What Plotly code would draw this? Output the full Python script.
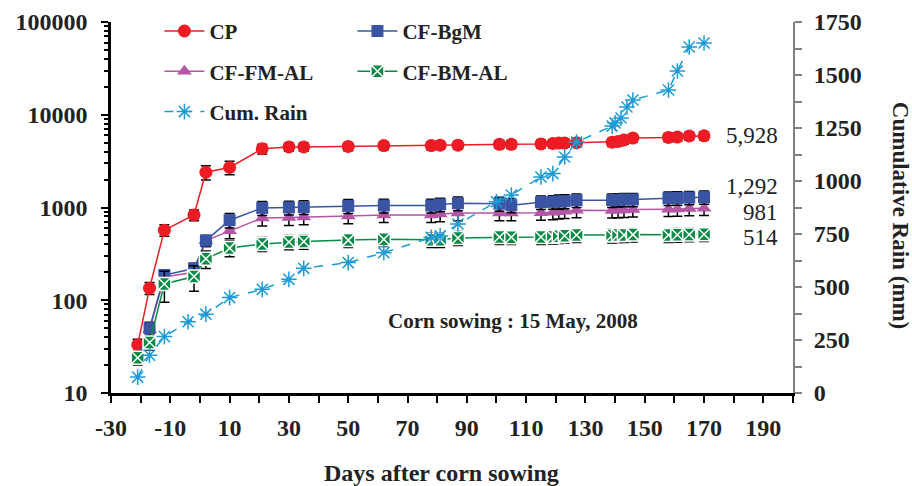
import plotly.graph_objects as go
import math

# ---------------- data ----------------
days = [-21, -17, -12, -2, 2, 10, 21, 30, 35, 50, 62, 78, 81, 87, 101, 105,
        115, 119, 121, 123, 127, 139, 141, 143, 146, 158, 161, 165, 170]

cp = [33, 135, 570, 830, 2400, 2700, 4300, 4500, 4500, 4550, 4650, 4650, 4700, 4700,
      4800, 4800, 4850, 4900, 4950, 4950, 5000, 5050, 5150, 5350, 5600, 5700, 5750, 5900, 5928]
cp_err = [5, 20, 80, 110, 420, 450, 520, 450, 450, 450, 450, 450, 460, 460,
          480, 480, 480, 490, 490, 490, 500, 500, 510, 530, 560, 570, 570, 590, 590]

bgm = [24, 50, 187, 220, 440, 730, 990, 1000, 1010, 1040, 1050, 1050, 1080, 1110,
       1100, 1060, 1140, 1150, 1160, 1170, 1200, 1200, 1210, 1220, 1220, 1260, 1270, 1280, 1292]
bgm_err = [3, 8, 25, 30, 60, 130, 170, 170, 170, 180, 180, 180, 180, 190,
           190, 180, 190, 190, 200, 200, 200, 200, 200, 200, 200, 210, 210, 210, 210]

fmal = [24, 48, 178, 200, 440, 560, 770, 780, 790, 810, 830, 830, 850, 870,
        870, 870, 880, 890, 900, 910, 935, 930, 935, 940, 950, 960, 965, 975, 981]
fmal_err = [3, 8, 25, 30, 60, 100, 140, 140, 140, 140, 140, 140, 150, 150,
            150, 150, 150, 150, 150, 150, 160, 160, 160, 160, 160, 160, 160, 160, 160]

bmal = [24, 35, 150, 180, 280, 365, 405, 425, 430, 445, 455, 450, 450, 470,
        480, 478, 480, 485, 490, 495, 505, 500, 505, 505, 510, 505, 508, 512, 514]
bmal_err = [4, 6, 55, 55, 60, 70, 70, 75, 75, 75, 75, 80, 80, 80,
            80, 80, 80, 80, 80, 80, 85, 85, 85, 85, 85, 85, 85, 85, 85]

rain_days = [-21, -17, -12, -4, 2, 10, 21, 30, 35, 50, 62, 78, 81, 87, 100, 105,
             115, 119, 123, 127, 139, 140, 142, 144, 146, 158, 161, 165, 170]
rain = [75, 178, 266, 336, 372, 450, 489, 536, 588, 615, 662, 734, 741, 797, 902, 934,
        1019, 1035, 1113, 1184, 1259, 1274, 1297, 1349, 1382, 1429, 1519, 1632, 1651]

end_labels = ["5,928", "1,292", "981", "514"]
end_values = [5928, 1292, 981, 514]
end_shift = [0, 11, -4, -3]

x_ticks = list(range(-30, 200, 20))
x_ticktext = ["-30", "-10", "10", "30", "50", "70", "90", "110", "130", "150", "170", "190"]
y_ticks = [10, 100, 1000, 10000, 100000]
y_ticktext = ["10", "100", "1000", "10000", "100000"]
y2_ticks = list(range(0, 1751, 250))

# ---------------- styles ----------------
SERIF = "Liberation Serif"
RED = "#ED1C24"
BLUE = "#3A54A4"
PURPLE = "#B455A6"
GREEN = "#0B8A45"
RAINC = "#1C9AD6"

fig = go.Figure()

def err(vals):
    return dict(type="data", array=vals, visible=True, color="black",
                thickness=1.5, width=5)

fig.add_trace(go.Scatter(x=days, y=cp, name="CP", mode="lines+markers",
                         line=dict(color=RED, width=1.5),
                         marker=dict(symbol="circle", size=13, color=RED),
                         error_y=err(cp_err), legend="legend", legendgroup="a"))
fig.add_trace(go.Scatter(x=days, y=fmal, name="CF-FM-AL", mode="lines+markers",
                         line=dict(color=PURPLE, width=1.5),
                         marker=dict(symbol="triangle-up", size=13, color=PURPLE),
                         error_y=err(fmal_err), legend="legend", legendgroup="b"))
fig.add_trace(go.Scatter(x=days, y=bgm, name="CF-BgM", mode="lines+markers",
                         line=dict(color=BLUE, width=1.5),
                         marker=dict(symbol="square", size=12, color=BLUE),
                         error_y=err(bgm_err), legend="legend2", legendgroup="c"))
fig.add_trace(go.Scatter(x=days, y=bmal, name="CF-BM-AL", mode="lines+markers",
                         line=dict(color=GREEN, width=1.5),
                         marker=dict(symbol="square-x", size=13, color=GREEN,
                                     line=dict(color="white", width=1.5)),
                         error_y=err(bmal_err), legend="legend2", legendgroup="d"))
fig.add_trace(go.Scatter(x=rain_days, y=rain, name="Cum. Rain", mode="lines+markers",
                         yaxis="y2",
                         line=dict(color=RAINC, width=1.5, dash="dash"),
                         marker=dict(symbol="asterisk-open", size=13,
                                     line=dict(color=RAINC, width=1.5)),
                         legend="legend", legendgroup="e"))

annotations = []
for lab, val, sh in zip(end_labels, end_values, end_shift):
    annotations.append(dict(x=195.5, y=math.log10(val), xref="x", yref="y",
                            text=lab, showarrow=False, xanchor="right",
                            yanchor="middle", yshift=sh,
                            font=dict(family=SERIF, size=23, color="#222")))
annotations.append(dict(x=0.589, y=0.194, xref="paper", yref="paper",
                        text="Corn sowing : 15 May, 2008", showarrow=False,
                        xanchor="center", yanchor="middle",
                        font=dict(family=SERIF, size=21, color="#222", weight="bold")))
annotations.append(dict(x=0.485, y=-0.215, xref="paper", yref="paper",
                        text="Days after corn sowing", showarrow=False,
                        xanchor="center", yanchor="middle",
                        font=dict(family=SERIF, size=24, color="#222", weight="bold")))
annotations.append(dict(x=1.157, y=0.48, xref="paper", yref="paper",
                        text="Cumulative Rain (mm)", showarrow=False, textangle=90,
                        xanchor="center", yanchor="middle",
                        font=dict(family=SERIF, size=23, color="#222", weight="bold")))

tickfont = dict(family=SERIF, size=24, color="#222", weight="bold")
legfont = dict(family=SERIF, size=21, color="#222", weight="bold")

fig.update_layout(
    width=912, height=486,
    margin=dict(l=111, r=119, t=22, b=93, autoexpand=False),
    paper_bgcolor="white", plot_bgcolor="white",
    xaxis=dict(range=[-30, 200], tickvals=x_ticks, ticktext=x_ticktext,
               ticks="outside", ticklen=7,
               tickwidth=2, tickcolor="black", showline=True, linecolor="black",
               linewidth=2.5, showgrid=False, zeroline=False, tickfont=tickfont,
               ticklabelstandoff=4,
               minor=dict(dtick=10, tick0=-30, ticks="outside", ticklen=7,
                          tickwidth=2, tickcolor="black", showgrid=False)),
    yaxis=dict(type="log", range=[1, 5], tickvals=y_ticks, ticktext=y_ticktext,
               ticks="outside",
               ticklen=7, tickwidth=2, tickcolor="black", showline=True,
               linecolor="black", linewidth=2.5, showgrid=False, zeroline=False,
               tickfont=tickfont, ticklabelstandoff=9,
               minor=dict(tickvals=[m * 10 ** e for e in range(1, 5) for m in range(2, 10)],
                          ticks="outside", ticklen=4, tickwidth=1.5,
                          tickcolor="black", showgrid=False)),
    yaxis2=dict(overlaying="y", side="right", range=[0, 1750], tickvals=y2_ticks,
                ticks="outside", ticklen=7, tickwidth=1.5, tickcolor="#808080",
                showline=True, linecolor="#808080", linewidth=2, showgrid=False,
                zeroline=False, tickfont=tickfont, ticklabelstandoff=7,
                minor=dict(dtick=125, ticks="outside", ticklen=7, tickwidth=1.5,
                           tickcolor="#808080", showgrid=False)),
    legend=dict(x=0.071, y=1.03, xanchor="left", yanchor="top", font=legfont,
                bgcolor="rgba(0,0,0,0)", traceorder="grouped", tracegroupgap=10,
                itemwidth=40),
    legend2=dict(x=0.354, y=1.03, xanchor="left", yanchor="top", font=legfont,
                 bgcolor="rgba(0,0,0,0)", traceorder="grouped", tracegroupgap=10,
                 itemwidth=40),
    annotations=annotations,
    showlegend=True,
)

fig.write_html("out.html")
